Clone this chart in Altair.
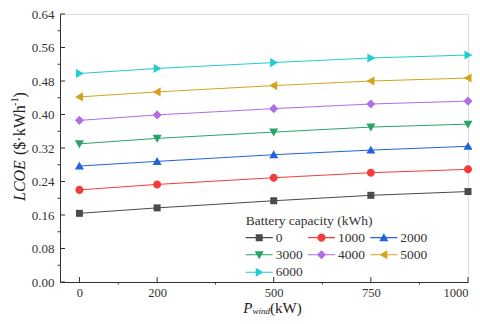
import altair as alt
import pandas as pd

# ---------------- data ----------------
P_WIND = [0, 200, 500, 750, 1000]
CAPACITY = ["0", "1000", "2000", "3000", "4000", "5000", "6000"]
LCOE_0 = [0.164, 0.177, 0.194, 0.207, 0.216]
LCOE_1000 = [0.220, 0.233, 0.249, 0.261, 0.269]
LCOE_2000 = [0.277, 0.288, 0.304, 0.315, 0.324]
LCOE_3000 = [0.330, 0.343, 0.358, 0.370, 0.377]
LCOE_4000 = [0.386, 0.399, 0.414, 0.425, 0.432]
LCOE_5000 = [0.442, 0.454, 0.469, 0.480, 0.487]
LCOE_6000 = [0.498, 0.510, 0.524, 0.535, 0.542]
SERIES = [LCOE_0, LCOE_1000, LCOE_2000, LCOE_3000, LCOE_4000, LCOE_5000, LCOE_6000]

X_MAJOR = [0, 200, 500, 750, 1000]
X_MINOR = [100, 350, 625, 875]
Y_MAJOR = [0.00, 0.08, 0.16, 0.24, 0.32, 0.40, 0.48, 0.56, 0.64]
Y_MINOR = [0.04, 0.12, 0.20, 0.28, 0.36, 0.44, 0.52, 0.60]

COLORS = ["#4a4a4a", "#f43c3c", "#2163dd", "#2aa36a", "#b06ee2", "#d5a21c", "#1fcdd2"]

rows = []
for cap, vals in zip(CAPACITY, SERIES):
    for p, v in zip(P_WIND, vals):
        rows.append({"P": p, "LCOE": v, "cap": cap})
df = pd.DataFrame(rows)

# ---------------- marker paths ----------------
def marker(kind, cx=0.0):
    if kind == "square":
        return f"M{cx-1},-1H{cx+1}V1H{cx-1}Z"
    if kind == "circle":
        r = 1.15
        return f"M{cx-r},0A{r},{r} 0 0,1 {cx+r},0A{r},{r} 0 0,1 {cx-r},0Z"
    if kind == "up":
        return f"M{cx},-1.25L{cx+1.3},1L{cx-1.3},1Z"
    if kind == "down":
        return f"M{cx-1.3},-1L{cx+1.3},-1L{cx},1.25Z"
    if kind == "diamond":
        return f"M{cx},-1.3L{cx+1.3},0L{cx},1.3L{cx-1.3},0Z"
    if kind == "left":
        return f"M{cx-1.25},0L{cx+1},-1.3L{cx+1},1.3Z"
    if kind == "right":
        return f"M{cx+1.25},0L{cx-1},1.3L{cx-1},-1.3Z"

KINDS = ["square", "circle", "up", "down", "diamond", "left", "right"]
PLOT_SHAPES = [marker(k) for k in KINDS]
# legend symbols: line + marker (units of 3.5 px, symbol center at 6.75 px)
L0, L1, MC = -1.93, 5.79, 1.93
LEG_SHAPES = [f"M{L0},-0.15H{L1}V0.15H{L0}Z" + marker(k, MC) for k in KINDS]

FONT = "Liberation Serif"
xscale = alt.Scale(domain=[-50, 1000], nice=False, zero=False)
yscale = alt.Scale(domain=[0, 0.64], nice=False, zero=False)

xaxis = alt.Axis(values=X_MAJOR, format="d", title=None, ticks=False, tickSize=0,
                 labelPadding=4, labelFont=FONT, labelFontSize=12.5, labelColor="#333",
                 labelOverlap=False, domainColor="#333", grid=False)
yaxis = alt.Axis(values=Y_MAJOR, format=".2f", title=None, ticks=False, tickSize=0,
                 labelPadding=6, labelFont=FONT, labelFontSize=13, labelColor="#333",
                 labelOverlap=False, domainColor="#333", grid=False)

X = lambda: alt.X("P:Q", scale=xscale, axis=xaxis)
Y = lambda: alt.Y("LCOE:Q", scale=yscale, axis=yaxis)

lines = alt.Chart(df).mark_line(strokeWidth=1).encode(
    x=X(), y=Y(),
    color=alt.Color("cap:N", scale=alt.Scale(domain=CAPACITY, range=COLORS), legend=None),
)

points = alt.Chart(df).mark_point(filled=True, opacity=1, size=49, strokeWidth=0).encode(
    x=X(), y=Y(),
    color=alt.Color("cap:N", scale=alt.Scale(domain=CAPACITY, range=COLORS), legend=None),
    shape=alt.Shape("cap:N", scale=alt.Scale(domain=CAPACITY, range=PLOT_SHAPES), legend=None),
)

leg = alt.Legend(
    title="Battery capacity (kWh)", orient="none", legendX=185.7, legendY=199.5,
    columns=3, direction="horizontal", symbolSize=49, symbolStrokeWidth=0, labelOffset=16.5,
    columnPadding=4.3, rowPadding=2.5, padding=0, titlePadding=3.5,
    titleFont=FONT, titleFontSize=13.5, titleFontWeight="normal", titleColor="#333",
    labelFont=FONT, labelFontSize=13.5, labelColor="#333",
)
legend_layer = alt.Chart(df).transform_filter("datum.P < -100").mark_point(
    filled=True, opacity=1, size=49, strokeWidth=0).encode(
    x=X(), y=Y(),
    color=alt.Color("cap:N", scale=alt.Scale(domain=CAPACITY, range=COLORS), legend=leg),
    shape=alt.Shape("cap:N", scale=alt.Scale(domain=CAPACITY, range=LEG_SHAPES), legend=leg),
)

H = 268
tick_x_major = alt.Chart(pd.DataFrame({"P": X_MAJOR})).mark_rule(color="#333", strokeWidth=1).encode(
    x=X(), y=alt.value(H), y2=alt.value(H - 5))
tick_x_minor = alt.Chart(pd.DataFrame({"P": X_MINOR})).mark_rule(color="#333", strokeWidth=1).encode(
    x=X(), y=alt.value(H), y2=alt.value(H + 2.5))
tick_y_major = alt.Chart(pd.DataFrame({"LCOE": Y_MAJOR})).mark_rule(color="#333", strokeWidth=1).encode(
    y=Y(), x=alt.value(0), x2=alt.value(5))
tick_y_minor = alt.Chart(pd.DataFrame({"LCOE": Y_MINOR})).mark_rule(color="#333", strokeWidth=1).encode(
    y=Y(), x=alt.value(0), x2=alt.value(-2.5))

one = pd.DataFrame({"d": [0]})

def txt(s, x, y, size=16, style="normal", angle=0, baseline="alphabetic"):
    return alt.Chart(one).mark_text(
        text=s, font=FONT, fontSize=size, fontStyle=style, angle=angle,
        align="left", baseline=baseline, color="#222").encode(x=alt.value(x), y=alt.value(y))

# y title (rotated)
YT_X = -40
ytitle = [
    txt("LCOE", YT_X, 187.0, style="italic", angle=270, baseline="middle"),
    txt("($·kWh", YT_X, 141.0, angle=270, baseline="middle"),
    txt("-1", YT_X - 5, 92.0, size=10.5, angle=270, baseline="middle"),
    txt(")", YT_X, 83.5, angle=270, baseline="middle"),
]
# x title
xtitle = [
    txt("P", 183.3, 298.8, size=15, style="italic"),
    txt("wind", 192.5, 299.8, size=9, style="italic"),
    txt("(kW)", 210.0, 298.8, size=15),
]

chart = alt.layer(
    lines, points, legend_layer,
    tick_x_major, tick_x_minor, tick_y_major, tick_y_minor,
    *ytitle, *xtitle,
).resolve_scale(color="independent", shape="independent").properties(
    width=408, height=H,
    autosize=alt.AutoSizeParams(type="none"),
    padding={"left": 52, "top": 6, "right": 4, "bottom": 34},
).configure_view(stroke="#333", strokeWidth=1).configure(background="white")

chart.save("out.html", embed_options={"renderer": "svg", "actions": False})
